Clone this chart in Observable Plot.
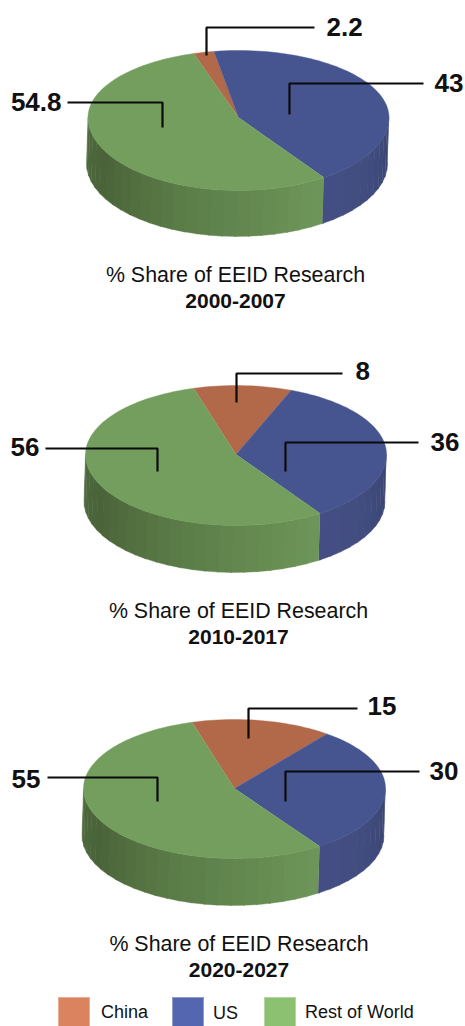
<!DOCTYPE html>
<html>
<head>
<meta charset="utf-8">
<script src="https://cdn.jsdelivr.net/npm/d3@7"></script>
<script src="https://cdn.jsdelivr.net/npm/@observablehq/plot@0.6"></script>
<style>
html,body{margin:0;padding:0;background:#fff;width:465px;height:1026px;overflow:hidden;font-family:"Liberation Sans",Arial,sans-serif;color:#111}
svg{display:block}
.cap{position:relative;height:52px;line-height:26px;font-size:21.4px;text-align:center;white-space:nowrap}
.cap b{display:block;font-size:21px}
.legend{position:relative;height:43px;overflow:hidden;font-size:18px}
.legend i{position:absolute;top:14px;width:32px;height:40px;box-sizing:border-box;border:1px solid rgba(255,255,255,.35)}
.legend span{position:absolute;line-height:20px}
</style>
</head>
<body>
<div id="root"></div>
<script>
// Values printed on the chart
const categories = ["China", "US", "Rest of World"];
const periods = ["2000-2007", "2010-2017", "2020-2027"];
const chinaLabels = ["2.2", "8", "15"];
const usLabels = ["43", "36", "30"];
const restLabels = ["54.8", "56", "55"];
// Wedge sizes as drawn in the picture (the middle pie is drawn a little off its labels)
const chinaShare = [2.2, 10.5, 15];
const usShare = [43, 34.6, 30];
const restShare = [54.8, 54.9, 55];

// Layout and styles, apart from the data
const topColors = ["#b2694a", "#46558f", "#739e5e"];
const legendColors = ["#db835e", "#5566b0", "#8cc172"];
const panels = [
  {top: 0, h: 262, cx: 238, cy: 117, rx: 150.5, ryT: 67, ryB: 73, depth: 46, start: -17.3, capShift: 3,
   leaders: [[[206,55],[206,27],[314,27]], [[289,114],[289,83],[423,83]], [[162,127],[162,102],[67,102]]],
   labels: [[326,27,"start"], [434,83,"start"], [61,102,"end"]]},
  {top: 314, h: 284, cx: 235.5, cy: 454, rx: 150.5, ryT: 69, ryB: 71, depth: 47, start: -16.3, capShift: 6,
   leaders: [[[236,402],[236,373],[342,373]], [[285,471],[285,442],[418,442]], [[157,471],[157,448],[45,448]]],
   labels: [[355,371,"start"], [430,442,"start"], [39,447,"end"]]},
  {top: 650, h: 281, cx: 234, cy: 788, rx: 151, ryT: 69, ryB: 70, depth: 47, start: -16.3, capShift: 6.5,
   leaders: [[[248,738],[248,708],[357,708]], [[285,801],[285,771],[419,771]], [[157,801],[157,777],[47,777]]],
   labels: [[367,706,"start"], [429,771,"start"], [40,779,"end"]]}
];

const rad = Math.PI / 180;
const greenWall = d3.scaleLinear().domain([146, 200, 240, 270]).range(["#6e9559", "#5a7c47", "#4a6339", "#4f6b3e"]).clamp(true);
const blueWall = d3.scaleLinear().domain([90, 112, 146]).range(["#39446f", "#404b7d", "#454f85"]).clamp(true);

function drawPie(p, i) {
  const pt = (deg, dy = 0, dx = 0) => {
    const c = Math.cos(deg * rad);
    return {x: p.cx + dx + p.rx * Math.sin(deg * rad), y: p.cy + dy - (c > 0 ? p.ryT : p.ryB) * c};
  };
  const shares = [chinaShare[i], usShare[i], restShare[i]];
  const total = d3.sum(shares);
  const spans = [];
  let a = p.start;
  shares.forEach((s, k) => { const b = a + s / total * 360; spans.push([a, b]); a = b; });

  // top face: each wedge closes through the centre
  const tops = [];
  spans.forEach(([a0, a1], k) => {
    tops.push({id: k, x: p.cx, y: p.cy, fill: topColors[k]});
    const n = Math.ceil((a1 - a0) / 2);
    for (let j = 0; j <= n; j++) tops.push({id: k, ...pt(a0 + (a1 - a0) * j / n), fill: topColors[k]});
  });

  // side wall: narrow bands that step through the shading
  const walls = [];
  const band = (from, to, color, id) => {
    walls.push({id, ...pt(from), fill: color}, {id, ...pt(to), fill: color},
               {id, ...pt(to, p.depth, -1.5), fill: color}, {id, ...pt(from, p.depth, -1.5), fill: color});
  };
  const split = spans[1][1];
  d3.range(90, split, 5).forEach(d => band(d, Math.min(d + 5.4, split), blueWall(d), "b" + d));
  d3.range(split, 270, 5).forEach(d => band(d, Math.min(d + 5.4, 270), greenWall(d), "g" + d));

  const leaders = p.leaders.flatMap((l, k) => l.map(([x, y]) => ({k, x, y})));
  const words = [chinaLabels[i], usLabels[i], restLabels[i]];
  const labels = p.labels.map(([x, y, anchor], k) => ({x, y, anchor, text: words[k]}));

  return Plot.plot({
    width: 465, height: p.h, margin: 0,
    x: {axis: null, domain: [0, 465]},
    y: {axis: null, domain: [p.top, p.top + p.h], reverse: true},
    marks: [
      Plot.line(walls, {x: "x", y: "y", z: "id", fill: "fill", stroke: "fill", strokeWidth: 0.4, curve: "linear"}),
      Plot.line(tops, {x: "x", y: "y", z: "id", fill: "fill", stroke: "fill", strokeWidth: 0.4, curve: "linear"}),
      Plot.line(leaders, {x: "x", y: "y", z: "k", stroke: "#0b0b0b", strokeWidth: 2.2, strokeLinejoin: "miter", strokeLinecap: "butt", curve: "linear"}),
      Plot.text(labels.filter(d => d.anchor === "start"), {x: "x", y: "y", text: "text", textAnchor: "start", lineAnchor: "middle", fontSize: 26, fontWeight: "bold", fontFamily: "Liberation Sans", fill: "#111"}),
      Plot.text(labels.filter(d => d.anchor === "end"), {x: "x", y: "y", text: "text", textAnchor: "end", lineAnchor: "middle", fontSize: 26, fontWeight: "bold", fontFamily: "Liberation Sans", fill: "#111"})
    ]
  });
}

const root = document.getElementById("root");
panels.forEach((p, i) => {
  root.appendChild(drawPie(p, i));
  const cap = document.createElement("div");
  cap.className = "cap";
  cap.style.left = p.capShift + "px";
  cap.innerHTML = `% Share of EEID Research<b>${periods[i]}</b>`;
  root.appendChild(cap);
});
const legend = document.createElement("div");
legend.className = "legend";
const swatchX = [58, 172, 264], textX = [101, 213, 305], textY = [19, 20, 19];
categories.forEach((c, k) => {
  const sw = document.createElement("i");
  sw.style.left = swatchX[k] + "px";
  sw.style.background = legendColors[k];
  legend.appendChild(sw);
  const t = document.createElement("span");
  t.textContent = c;
  t.style.left = textX[k] + "px";
  t.style.top = textY[k] + "px";
  legend.appendChild(t);
});
root.appendChild(legend);
</script>
</body>
</html>
